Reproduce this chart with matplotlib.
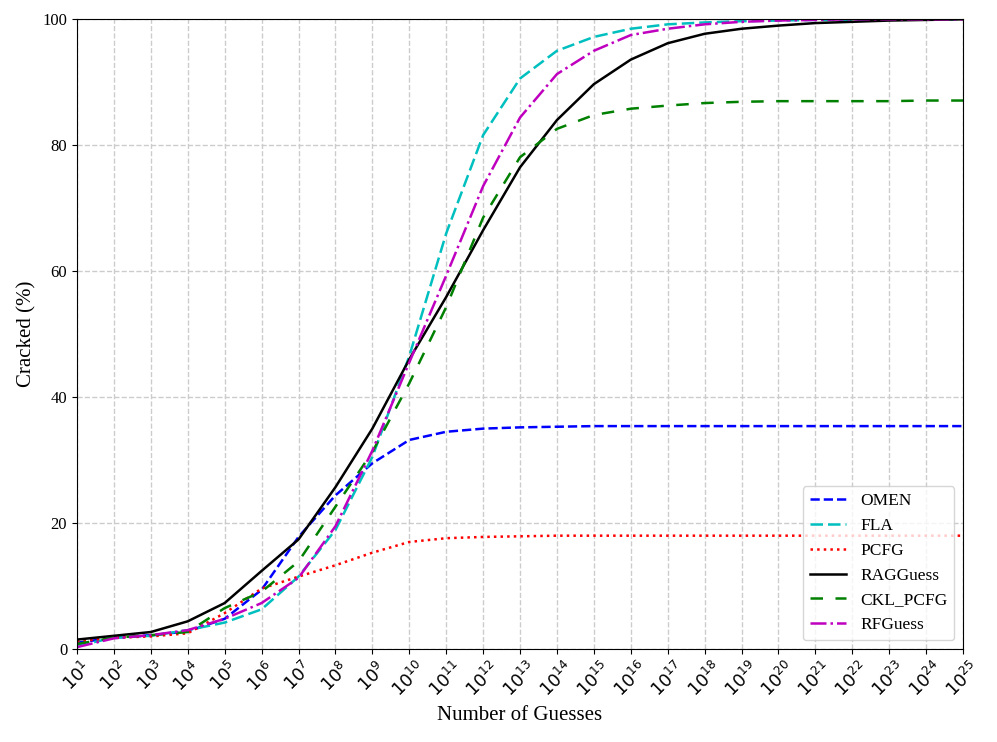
import numpy as np
import matplotlib
matplotlib.use("Agg")
import matplotlib.pyplot as plt

plt.rcParams['font.family'] = 'serif'
plt.rcParams['font.serif'] = ['Liberation Serif', 'DejaVu Serif']
plt.rcParams['mathtext.fontset'] = 'dejavusans'

# guesses as powers of ten
exps = list(range(1, 26))

omen = [1.0, 1.8, 2.2, 2.8, 4.8, 9.4, 17.8, 24.4, 29.5, 33.2, 34.5, 35.0, 35.2, 35.3,
        35.4, 35.4, 35.4, 35.4, 35.4, 35.4, 35.4, 35.4, 35.4, 35.4, 35.4]
fla = [0.5, 1.8, 2.1, 3.0, 4.2, 6.3, 11.5, 18.9, 30.5, 46.5, 66.0, 81.6, 90.6, 95.0,
       97.2, 98.5, 99.2, 99.5, 99.7, 99.8, 99.9, 99.9, 100.0, 100.0, 100.0]
pcfg = [1.2, 1.8, 2.0, 2.5, 5.7, 9.6, 11.5, 13.3, 15.3, 17.0, 17.6, 17.8, 17.9, 18.0,
        18.0, 18.0, 18.0, 18.0, 18.0, 18.0, 18.0, 18.0, 18.0, 18.0, 18.0]
ragguess = [1.5, 2.1, 2.7, 4.4, 7.3, 12.4, 17.4, 25.7, 35.0, 46.0, 55.9, 66.5, 76.5, 84.0,
            89.7, 93.6, 96.2, 97.7, 98.5, 99.0, 99.4, 99.6, 99.8, 99.9, 100.0]
ckl_pcfg = [0.8, 1.8, 2.2, 2.7, 6.5, 9.1, 13.9, 22.6, 31.3, 42.2, 54.3, 68.5, 78.1, 82.6,
            84.8, 85.8, 86.3, 86.7, 86.9, 87.0, 87.0, 87.0, 87.0, 87.1, 87.1]
rfguess = [0.3, 1.7, 2.2, 3.0, 4.8, 7.3, 11.3, 19.5, 31.5, 45.5, 59.3, 73.5, 84.4, 91.3,
           95.0, 97.5, 98.5, 99.2, 99.6, 99.8, 99.9, 100.0, 100.0, 100.0, 100.0]

x = [10.0 ** e for e in exps]

fig, ax = plt.subplots(figsize=(9.97, 7.42), dpi=100)
fig.subplots_adjust(left=0.0772, right=0.966, top=0.974, bottom=0.1253)

lw = 1.8
ax.plot(x, omen, color='b', ls='--', lw=lw, label='OMEN')
ax.plot(x, fla, color='c', ls=(0, (5, 2)), lw=lw, label='FLA')
ax.plot(x, pcfg, color='r', ls=':', lw=lw, label='PCFG')
ax.plot(x, ragguess, color='k', ls='-', lw=lw, label='RAGGuess')
ax.plot(x, ckl_pcfg, color='g', ls=(0, (5, 5)), lw=lw, label='CKL_PCFG')
ax.plot(x, rfguess, color='m', ls='-.', lw=lw, label='RFGuess')

ax.set_xscale('log')
ax.set_xlim(x[0], x[-1])
ax.set_ylim(0, 100)
ax.set_xticks(x)
ax.set_xticklabels([r'$10^{%d}$' % e for e in exps], rotation=45, fontsize=12.5)
ax.minorticks_off()
ax.tick_params(axis='y', labelsize=12)
ax.set_xlabel('Number of Guesses', fontsize=15)
ax.set_ylabel('Cracked (%)', fontsize=15)
ax.grid(True, ls='--', color='#cccccc', lw=1.0)
ax.legend(loc='lower right', fontsize=12.5, handlelength=2.1, labelspacing=0.5)

fig.savefig('out.png', dpi=100)
